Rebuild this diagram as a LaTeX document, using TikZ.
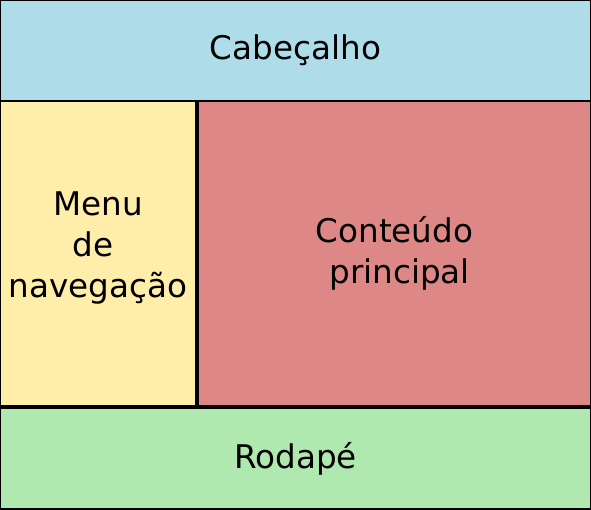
\documentclass[tikz,border=0pt]{standalone}
\usepackage{fontspec}
\setmainfont{DejaVu Sans}
\definecolor{hdrblue}{HTML}{AEDDE9}
\definecolor{menuyellow}{HTML}{FFEEAA}
\definecolor{mainpink}{HTML}{DE8787}
\definecolor{footgreen}{HTML}{AFE9AF}
\tikzset{
  region/.style={draw=black, line width=2pt, inner sep=0pt, rectangle, align=center,
    font=\fontsize{32.6}{41}\selectfont, text=black},
  label text/.style={inner sep=0pt, align=center, font=\fontsize{32.6}{41}\selectfont, text=black},
}
\begin{document}
\begin{tikzpicture}[x=1pt,y=-1pt]
\useasboundingbox (0,0) rectangle (591,509);
\node[region, fill=hdrblue, minimum width=591pt, minimum height=100.5pt] (header) at (295.5,50.25) {Cabeçalho};
\node[region, fill=menuyellow, minimum width=196pt, minimum height=305pt] (menu) at (98,253) {};
\node[label text] (menutext) at ([yshift=5pt]menu.center) {Menu\\\hbox{de\ }\\navegação};
\node[region, fill=mainpink, minimum width=393pt, minimum height=305pt] (main) at (394.5,253) {Conteúdo\\\hbox{\ principal}};
\node[region, fill=footgreen, minimum width=591pt, minimum height=101pt] (footer) at (295.5,458.5) {Rodapé};
\end{tikzpicture}
\end{document}
